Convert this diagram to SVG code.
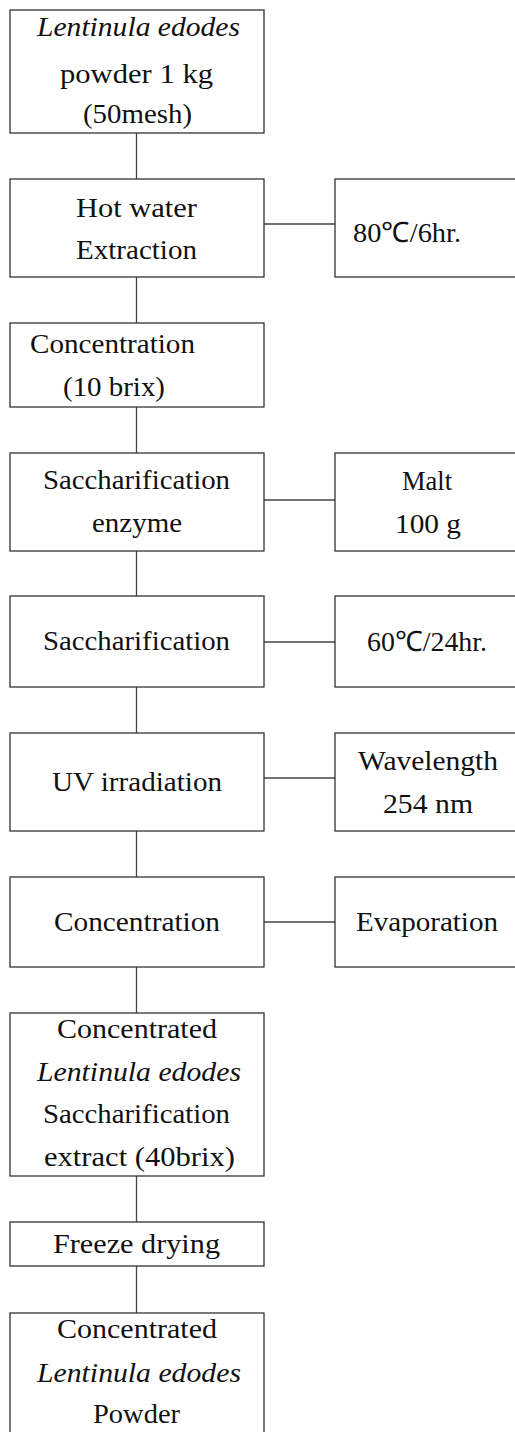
<svg xmlns="http://www.w3.org/2000/svg" width="515" height="1432" viewBox="0 0 515 1432">
<style>
rect{fill:#fff;stroke:#333;stroke-width:1.3}
line{stroke:#444;stroke-width:1.3}
text{font-family:"Liberation Serif","Times New Roman",serif;font-size:28px;fill:#111}
.i{font-style:italic}
</style>
<rect x="0" y="0" width="515" height="1432" style="stroke:none"/>
<g id="connectors">
<line x1="136.5" y1="133" x2="136.5" y2="179"/>
<line x1="136.5" y1="277" x2="136.5" y2="323"/>
<line x1="136.5" y1="407" x2="136.5" y2="453"/>
<line x1="136.5" y1="551" x2="136.5" y2="596"/>
<line x1="136.5" y1="687" x2="136.5" y2="733"/>
<line x1="136.5" y1="831" x2="136.5" y2="877"/>
<line x1="136.5" y1="967" x2="136.5" y2="1013"/>
<line x1="136.5" y1="1176" x2="136.5" y2="1222"/>
<line x1="136.5" y1="1266" x2="136.5" y2="1313"/>
<line x1="264" y1="224" x2="335" y2="224"/>
<line x1="264" y1="500" x2="335" y2="500"/>
<line x1="264" y1="642" x2="335" y2="642"/>
<line x1="264" y1="778" x2="335" y2="778"/>
<line x1="264" y1="922" x2="335" y2="922"/>
</g>
<g id="n1"><rect x="10" y="10" width="254" height="123"/>
<text class="i" x="37" y="36" textLength="203" lengthAdjust="spacingAndGlyphs">Lentinula  edodes</text>
<text x="60" y="83" textLength="153" lengthAdjust="spacingAndGlyphs">powder  1  kg</text>
<text x="83" y="123" textLength="109" lengthAdjust="spacingAndGlyphs">(50mesh)</text></g>
<g id="n2"><rect x="10" y="179" width="254" height="98"/>
<text x="76" y="217" textLength="121" lengthAdjust="spacingAndGlyphs">Hot  water</text>
<text x="76" y="259" textLength="121" lengthAdjust="spacingAndGlyphs">Extraction</text></g>
<g id="n2r"><rect x="335" y="179" width="190" height="98"/>
<text x="353" y="242" textLength="108" lengthAdjust="spacingAndGlyphs">80℃/6hr.</text></g>
<g id="n3"><rect x="10" y="323" width="254" height="84"/>
<text x="30" y="353" textLength="165" lengthAdjust="spacingAndGlyphs">Concentration</text>
<text x="63" y="396" textLength="102" lengthAdjust="spacingAndGlyphs">(10  brix)</text></g>
<g id="n4"><rect x="10" y="453" width="254" height="98"/>
<text x="43" y="489" textLength="187" lengthAdjust="spacingAndGlyphs">Saccharification</text>
<text x="92" y="532" textLength="90" lengthAdjust="spacingAndGlyphs">enzyme</text></g>
<g id="n4r"><rect x="335" y="453" width="190" height="98"/>
<text x="402" y="490" textLength="50" lengthAdjust="spacingAndGlyphs">Malt</text>
<text x="395" y="533" textLength="66" lengthAdjust="spacingAndGlyphs">100  g</text></g>
<g id="n5"><rect x="10" y="596" width="254" height="91"/>
<text x="43" y="650" textLength="187" lengthAdjust="spacingAndGlyphs">Saccharification</text></g>
<g id="n5r"><rect x="335" y="596" width="190" height="91"/>
<text x="367" y="651" textLength="120" lengthAdjust="spacingAndGlyphs">60℃/24hr.</text></g>
<g id="n6"><rect x="10" y="733" width="254" height="98"/>
<text x="52" y="791" textLength="170" lengthAdjust="spacingAndGlyphs">UV  irradiation</text></g>
<g id="n6r"><rect x="335" y="733" width="190" height="98"/>
<text x="358" y="770" textLength="140" lengthAdjust="spacingAndGlyphs">Wavelength</text>
<text x="383" y="813" textLength="90" lengthAdjust="spacingAndGlyphs">254  nm</text></g>
<g id="n7"><rect x="10" y="877" width="254" height="90"/>
<text x="54" y="931" textLength="166" lengthAdjust="spacingAndGlyphs">Concentration</text></g>
<g id="n7r"><rect x="335" y="877" width="190" height="90"/>
<text x="356" y="931" textLength="142" lengthAdjust="spacingAndGlyphs">Evaporation</text></g>
<g id="n8"><rect x="10" y="1013" width="254" height="163"/>
<text x="57" y="1038" textLength="160" lengthAdjust="spacingAndGlyphs">Concentrated</text>
<text class="i" x="37" y="1081" textLength="204" lengthAdjust="spacingAndGlyphs">Lentinula  edodes</text>
<text x="43" y="1123" textLength="187" lengthAdjust="spacingAndGlyphs">Saccharification</text>
<text x="44" y="1166" textLength="191" lengthAdjust="spacingAndGlyphs">extract  (40brix)</text></g>
<g id="n9"><rect x="10" y="1222" width="254" height="44"/>
<text x="53" y="1253" textLength="167" lengthAdjust="spacingAndGlyphs">Freeze  drying</text></g>
<g id="n10"><rect x="10" y="1313" width="254" height="140"/>
<text x="57" y="1338" textLength="160" lengthAdjust="spacingAndGlyphs">Concentrated</text>
<text class="i" x="37" y="1382" textLength="204" lengthAdjust="spacingAndGlyphs">Lentinula  edodes</text>
<text x="93" y="1423" textLength="87" lengthAdjust="spacingAndGlyphs">Powder</text></g>
</svg>
